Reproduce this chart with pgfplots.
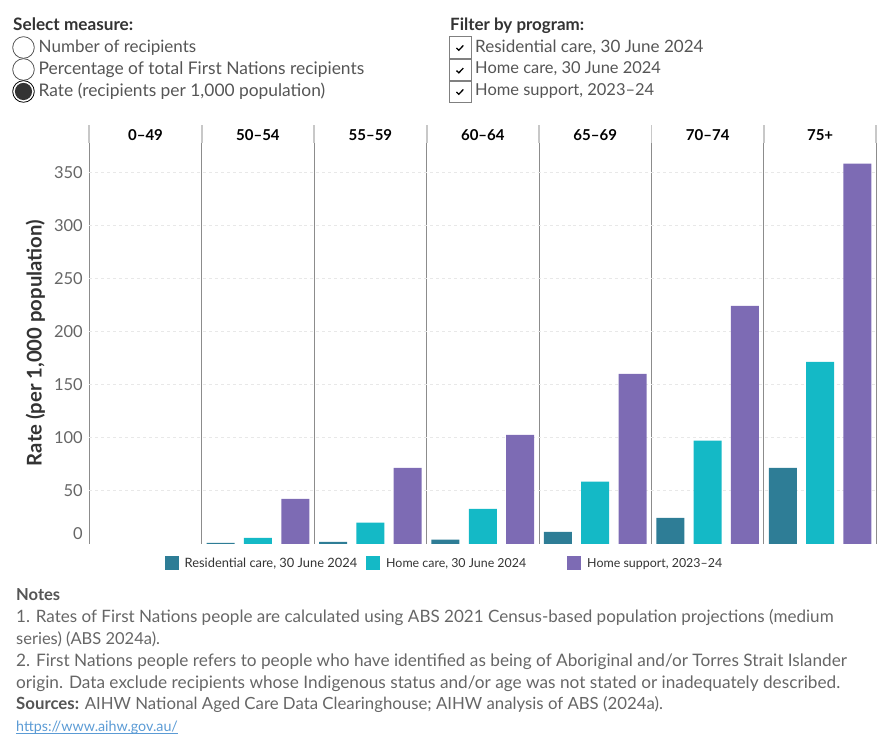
\documentclass[border=0pt]{standalone}
\usepackage{fontspec}
\setmainfont{Lato}
\usepackage{pgfplots}
\pgfplotsset{compat=1.18}

\definecolor{resid}{HTML}{2E7D96}
\definecolor{homec}{HTML}{14B9C6}
\definecolor{homes}{HTML}{7D6BB4}
\definecolor{txtdark}{HTML}{333333}
\definecolor{txtmid}{HTML}{555555}
\definecolor{txtnote}{HTML}{666666}
\definecolor{divider}{HTML}{8C8C8C}
\definecolor{hdrline}{HTML}{C8C8C8}
\definecolor{gridc}{HTML}{E8E8E8}
\definecolor{linkc}{HTML}{5B9BD5}

\newcommand{\fs}[1]{\fontsize{#1bp}{#1bp}\selectfont}
% set a line of text at a fixed width (in bp)
\newcommand{\fitw}[3]{\resizebox{#1bp}{!}{#2#3}}

% Rate per 1,000 population, by age group (0 = 0-49, ..., 6 = 75+)
\pgfplotstableread{
x      y
0.668  1.0
1.668  2.0
2.668  4.0
3.668  11.5
4.668  24.7
5.668  71.7
}\residential
\pgfplotstableread{
x      y
1.0    5.8
2.0    20.0
3.0    33.1
4.0    58.6
5.0    97.2
6.0    171.5
}\homecare
\pgfplotstableread{
x      y
1.332  42.5
2.332  71.7
3.332  102.8
4.332  160.2
5.332  224.2
6.332  358.0
}\homesupport

\begin{document}
\begin{tikzpicture}
\begin{scope}[x=1bp,y=1bp]
\useasboundingbox (0,0) rectangle (890,750);

% ---- measure selector ----
\node[anchor=base west,inner sep=0,text=txtdark] at (13,719.3) {\fitw{120}{\fs{16}\bfseries}{Select measure:}};
\draw[txtmid,line width=0.8] (23.5,702.5) circle (10.8);
\draw[txtmid,line width=0.8] (23.5,680.5) circle (10.8);
\draw[black,line width=0.8] (23.5,658.5) circle (10.8);
\fill[txtdark] (23.5,658.5) circle (8.6);
\node[anchor=base west,inner sep=0,text=txtmid] at (38.5,697.5) {\fitw{157.5}{\fs{17}}{Number of recipients}};
\node[anchor=base west,inner sep=0,text=txtmid] at (38.5,675.5) {\fitw{325.5}{\fs{17}}{Percentage of total First Nations recipients}};
\node[anchor=base west,inner sep=0,text=txtmid] at (38.5,653.5) {\fitw{286.5}{\fs{17}}{Rate (recipients per 1,000 population)}};

% ---- program filter ----
\node[anchor=base west,inner sep=0,text=txtdark] at (450,719.3) {\fitw{134}{\fs{16}\bfseries}{Filter by program:}};
\foreach \yt in {713.3,690.7,669.3}{
  \draw[gray,line width=0.8] (449.3,\yt) rectangle (471,\yt-21.7);
  \draw[black,line width=1.3] (456.5,\yt-11.3) -- (458.8,\yt-13.6) -- (463.3,\yt-8.8);
}
\node[anchor=base west,inner sep=0,text=txtmid] at (475,697.7) {\fitw{228.3}{\fs{17}}{Residential care, 30 June 2024}};
\node[anchor=base west,inner sep=0,text=txtmid] at (475,676) {\fitw{185.7}{\fs{17}}{Home care, 30 June 2024}};
\node[anchor=base west,inner sep=0,text=txtmid] at (475,654) {\fitw{179}{\fs{17}}{Home support, 2023--24}};

% panel header strip
\foreach \xd in {89.3,201.7,314.2,426.6,539.0,651.4,763.9,876.3}{
  \draw[hdrline,line width=1.8] (\xd,607) -- (\xd,625);
}
\foreach \xc/\lab in {145.5/0--49,257.9/50--54,370.4/55--59,482.8/60--64,595.2/65--69,707.7/70--74,820.1/75+}{
  \node[anchor=base,inner sep=0,font=\fs{15}\bfseries] at (\xc,609) {\lab};
}

% y-axis title
\node[anchor=base,inner sep=0,rotate=90,text=txtdark] at (41.7,407) {\fitw{246}{\fs{19.5}\bfseries}{Rate (per 1,000 population)}};

% ---- legend ----
\fill[resid] (165,180) rectangle (179,194);
\node[anchor=base west,inner sep=0,text=txtdark] at (184.5,182.5) {\fitw{172.5}{\fs{13}}{Residential care, 30 June 2024}};
\fill[homec] (366,180) rectangle (380,194);
\node[anchor=base west,inner sep=0,text=txtdark] at (386,182.5) {\fitw{140}{\fs{13}}{Home care, 30 June 2024}};
\fill[homes] (567,180) rectangle (581,194);
\node[anchor=base west,inner sep=0,text=txtdark] at (587,182.5) {\fitw{135}{\fs{13}}{Home support, 2023--24}};

% ---- notes ----
\node[anchor=base west,inner sep=0,text=txtmid] at (16,149) {\fitw{44}{\fs{16}\bfseries}{Notes}};
\node[anchor=base west,inner sep=0,text=txtnote] at (16,127.2) {\fitw{817.3}{\fs{16.5}}{1. Rates of First Nations people are calculated using ABS 2021 Census-based population projections (medium}};
\node[anchor=base west,inner sep=0,text=txtnote] at (16,105.5) {\fs{16.5}series) (ABS 2024a).};
\node[anchor=base west,inner sep=0,text=txtnote] at (16,83.5) {\fitw{830.7}{\fs{16.5}}{2. First Nations people refers to people who have identified as being of Aboriginal and/or Torres Strait Islander}};
\node[anchor=base west,inner sep=0,text=txtnote] at (16,61.7) {\fitw{824}{\fs{16.5}}{origin. Data exclude recipients whose Indigenous status and/or age was not stated or inadequately described.}};
\node[anchor=base west,inner sep=0,text=txtnote] at (16,40) {\fitw{646.7}{\fs{16.5}}{\textbf{\color{txtmid}Sources:} AIHW National Aged Care Data Clearinghouse; AIHW analysis of ABS (2024a).}};
\node[anchor=base west,inner sep=0,text=linkc] (url) at (16,18.5) {\fitw{161.7}{\fs{13}}{https://www.aihw.gov.au/}};
\draw[linkc,line width=0.6] (16,16.5) -- ++(161.7,0);
\end{scope}

% ---- chart ----
\begin{axis}[
  at={(89.3bp,206bp)}, anchor=south west,
  scale only axis, width=787bp, height=401.2bp,
  xmin=-0.5, xmax=6.5, ymin=0, ymax=377.7,
  axis line style={draw=none},
  xtick={-0.5,0.5,...,6.5}, xticklabels={},
  ytick={50,100,...,350},
  extra y ticks={0},
  extra y tick style={grid=none, yticklabel style={yshift=10.5bp}},
  major tick length=0pt,
  xmajorgrids, ymajorgrids,
  x grid style={divider, line width=0.9bp},
  y grid style={gridc, dashed, line width=0.8bp},
  yticklabel style={font=\fs{16.5}, text=txtnote, xshift=-3bp},
  /pgf/number format/assume math mode=true,
  clip=false,
]
\addplot[ybar, bar width=0.249, bar shift=0pt, fill=resid, draw=none] table {\residential};
\addplot[ybar, bar width=0.249, bar shift=0pt, fill=homec, draw=none] table {\homecare};
\addplot[ybar, bar width=0.249, bar shift=0pt, fill=homes, draw=none] table {\homesupport};
\end{axis}
\end{tikzpicture}
\end{document}
